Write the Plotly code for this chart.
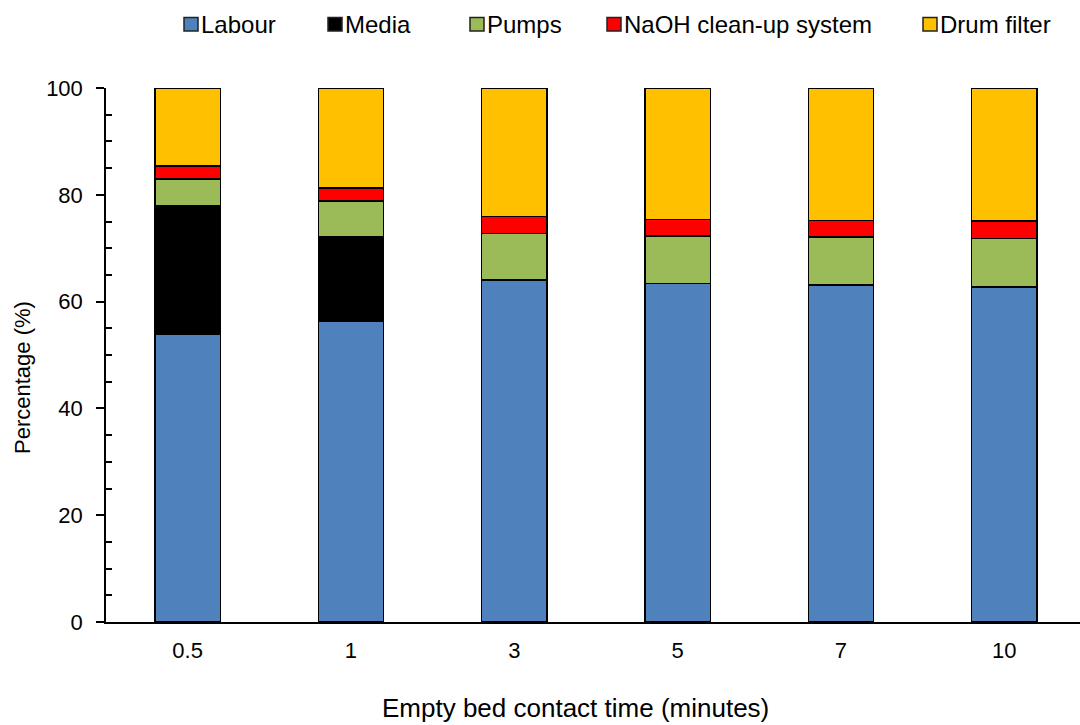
import plotly.graph_objects as go

# Empty bed contact time categories (minutes)
ebct = ["0.5", "1", "3", "5", "7", "10"]

# Share of total cost (%) for each component
labour = [53.9, 56.4, 64.0, 63.4, 63.1, 62.7]
media = [24.0, 15.7, 0.0, 0.0, 0.0, 0.0]
pumps = [5.1, 6.7, 8.8, 8.9, 9.0, 9.1]
naoh = [2.4, 2.5, 3.1, 3.1, 3.1, 3.3]
drum = [14.6, 18.7, 24.1, 24.6, 24.8, 24.9]

series_names = ["Labour", "Media", "Pumps", "NaOH clean-up system", "Drum filter"]
series_values = [labour, media, pumps, naoh, drum]
series_colors = ["#4F81BD", "#000000", "#9BBB59", "#FF0000", "#FFC000"]

FONT = "Liberation Sans, Arial, sans-serif"
W, H = 1080, 725
L, R, T, B = 106, 0, 88, 103

fig = go.Figure()
for name, vals, col in zip(series_names, series_values, series_colors):
    fig.add_trace(go.Bar(
        x=ebct, y=vals, name=name,
        marker=dict(color=col, line=dict(color="#000000", width=1.5)),
        width=0.4, showlegend=False,
    ))

# pixel -> paper helpers for the hand-built legend and titles
pw = W - L - R
ph = H - T - B
def px_x(p):
    return (p - L) / pw
def px_y(p):
    return (H - B - p) / ph

legend_left = [184, 328, 470, 607, 923]
shapes = []
annotations = []
for name, col, x0 in zip(series_names, series_colors, legend_left):
    shapes.append(dict(
        type="rect", xref="paper", yref="paper",
        x0=px_x(x0), x1=px_x(x0 + 14), y0=px_y(31), y1=px_y(17.5),
        fillcolor=col, line=dict(color="#222222", width=1.5),
    ))
    annotations.append(dict(
        xref="paper", yref="paper", x=px_x(x0 + 15), y=px_y(24.5),
        text=name, showarrow=False, xanchor="left", yanchor="middle",
        font=dict(family=FONT, size=24, color="#000000"),
    ))

annotations.append(dict(
    xref="paper", yref="paper", x=px_x(575), y=px_y(708),
    text="Empty bed contact time (minutes)", showarrow=False,
    xanchor="center", yanchor="middle",
    font=dict(family=FONT, size=26, color="#000000"),
))
annotations.append(dict(
    xref="paper", yref="paper", x=px_x(22), y=px_y(378),
    text="Percentage (%)", showarrow=False, textangle=-90,
    xanchor="center", yanchor="middle",
    font=dict(family=FONT, size=22, color="#000000"),
))

fig.update_layout(
    width=W, height=H,
    margin=dict(l=L, r=R, t=T, b=B, pad=0),
    barmode="stack", bargap=0.6,
    plot_bgcolor="#FFFFFF", paper_bgcolor="#FFFFFF",
    font=dict(family=FONT, size=22, color="#000000"),
    shapes=shapes, annotations=annotations,
)
fig.update_xaxes(
    type="category", range=[-0.5, 5.464],
    showline=True, linecolor="#000000", linewidth=1.5,
    ticks="", showgrid=False, zeroline=False,
    ticklabelstandoff=8,
    tickfont=dict(family=FONT, size=22, color="#000000"),
)
fig.update_yaxes(
    range=[0, 100], tickvals=[0, 20, 40, 60, 80, 100],
    showline=True, linecolor="#000000", linewidth=1.5,
    ticks="outside", ticklen=8, tickwidth=1.5, tickcolor="#000000",
    minor=dict(tickvals=[5, 10, 15, 25, 30, 35, 45, 50, 55, 65, 70, 75, 85, 90, 95],
               ticks="inside", ticklen=6, tickwidth=1.5, tickcolor="#000000"),
    showgrid=False, zeroline=False,
    ticklabelstandoff=9,
    tickfont=dict(family=FONT, size=22, color="#000000"),
)

fig.write_html("out.html")
